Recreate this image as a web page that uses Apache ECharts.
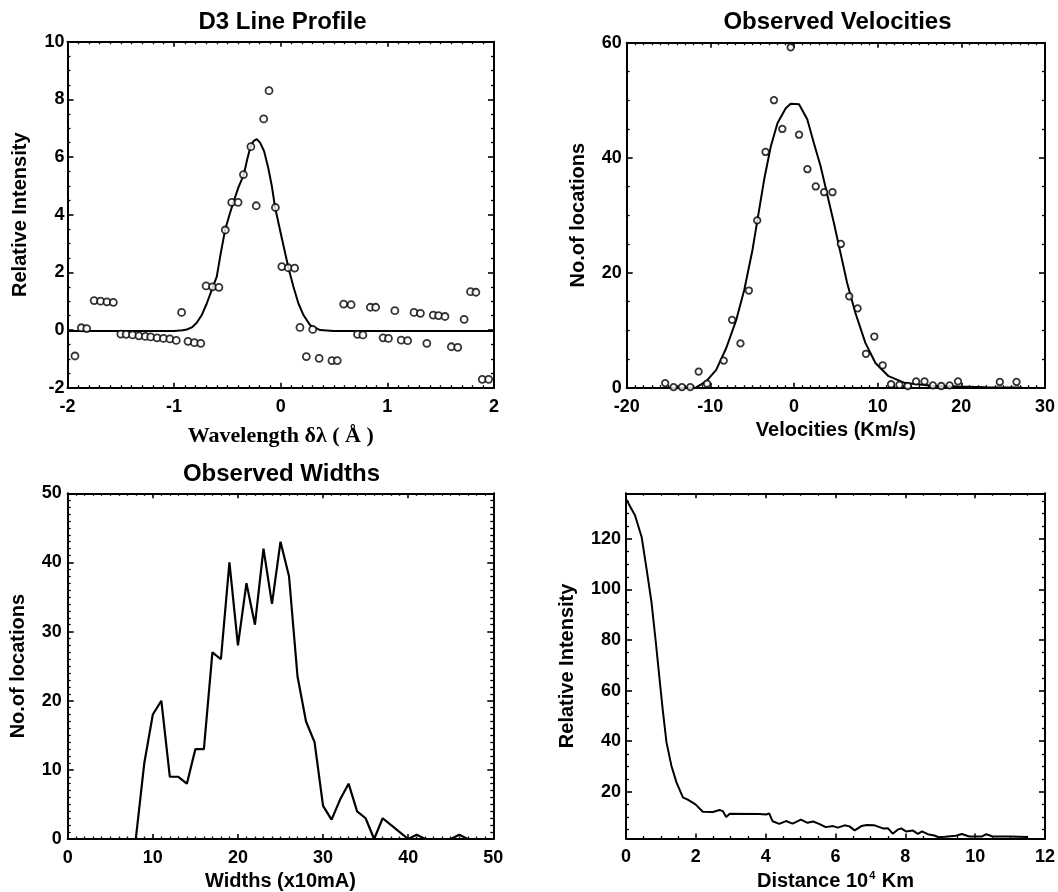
<!DOCTYPE html>
<html>
<head>
<meta charset="utf-8">
<script src="https://cdn.jsdelivr.net/npm/echarts@6/dist/echarts.min.js"></script>
<style>
html,body{margin:0;padding:0;background:#fff;}
#chart{width:1058px;height:892px;}
</style>
</head>
<body>
<div id="chart"></div>
<script>
// ---------- Panel 1: D3 Line Profile ----------
const profileX = [-2.0, -1.5, -1.0, -0.92, -0.881, -0.834, -0.788, -0.741, -0.694, -0.647, -0.600, -0.563, -0.522, -0.481, -0.444, -0.397, -0.347, -0.316, -0.284, -0.256, -0.225, -0.194, -0.156, -0.116, -0.084, -0.053, 0.009, 0.072, 0.119, 0.166, 0.213, 0.275, 0.369, 0.494, 1.0, 1.5, 2.0];
const profileY = [-0.03, -0.03, -0.03, -0.01, 0.02, 0.09, 0.25, 0.52, 0.92, 1.39, 1.85, 2.66, 3.47, 4.0, 4.43, 4.95, 5.38, 5.9, 6.36, 6.55, 6.62, 6.5, 6.2, 5.6, 5.0, 4.25, 3.2, 2.16, 1.5, 0.92, 0.52, 0.17, 0.0, -0.03, -0.03, -0.03, -0.03];
const profilePtsX = [-1.93, -1.87, -1.82, -1.75, -1.69, -1.63, -1.57, -1.50, -1.45, -1.39, -1.33, -1.27, -1.22, -1.16, -1.10, -1.04, -0.98, -0.93, -0.87, -0.81, -0.75, -0.70, -0.64, -0.58, -0.52, -0.46, -0.40, -0.35, -0.28, -0.23, -0.16, -0.11, -0.05, 0.01, 0.07, 0.13, 0.18, 0.24, 0.30, 0.36, 0.48, 0.53, 0.59, 0.66, 0.72, 0.77, 0.84, 0.89, 0.96, 1.01, 1.07, 1.13, 1.19, 1.25, 1.31, 1.37, 1.43, 1.48, 1.54, 1.60, 1.66, 1.72, 1.78, 1.83, 1.89, 1.95];
const profilePtsY = [-0.90, 0.08, 0.05, 1.02, 1.00, 0.98, 0.96, -0.14, -0.15, -0.17, -0.20, -0.22, -0.24, -0.27, -0.29, -0.31, -0.36, 0.61, -0.39, -0.44, -0.46, 1.53, 1.50, 1.48, 3.47, 4.43, 4.43, 5.39, 6.36, 4.31, 7.32, 8.30, 4.25, 2.20, 2.16, 2.15, 0.09, -0.92, 0.02, -0.98, -1.06, -1.06, 0.90, 0.88, -0.15, -0.17, 0.79, 0.79, -0.27, -0.29, 0.67, -0.35, -0.37, 0.61, 0.58, -0.46, 0.52, 0.50, 0.47, -0.58, -0.60, 0.37, 1.33, 1.31, -1.71, -1.71];

// ---------- Panel 2: Observed Velocities ----------
const velFitX = [-15.5, -12.5, -11.7, -10.5, -9.3, -8.1, -6.9, -5.95, -4.96, -4.37, -3.57, -2.77, -1.98, -0.99, -0.4, 0.6, 1.58, 2.38, 3.18, 3.97, 4.76, 5.56, 6.35, 7.34, 8.53, 9.73, 11.3, 13.3, 16.5, 19.6, 23, 27.3];
const velFitY = [0, 0, 0.05, 1.1, 3.1, 6.9, 11.8, 17.0, 24.0, 29.2, 36.2, 42.0, 46.0, 48.6, 49.4, 49.3, 46.7, 42.5, 38.5, 33.6, 28.7, 23.4, 18.2, 13.0, 7.8, 4.3, 2.0, 0.8, 0.35, 0.2, 0.1, 0.05];
const velPtsX = [-15.4, -14.4, -13.4, -12.4, -11.4, -10.4, -8.4, -7.4, -6.4, -5.4, -4.4, -3.4, -2.4, -1.4, -0.4, 0.6, 1.6, 2.6, 3.6, 4.6, 5.6, 6.6, 7.6, 8.6, 9.6, 10.6, 11.6, 12.6, 13.6, 14.6, 15.6, 16.6, 17.6, 18.6, 19.6, 24.6, 26.6];
const velPtsY = [0.8, 0.1, 0.1, 0.1, 2.8, 0.7, 4.7, 11.8, 7.7, 16.9, 29.1, 41.0, 50.0, 45.0, 59.2, 44.0, 38.0, 35.0, 34.0, 34.0, 25.0, 15.9, 13.8, 5.9, 8.9, 3.9, 0.6, 0.5, 0.3, 1.1, 1.1, 0.4, 0.3, 0.4, 1.1, 1.0, 1.0];

// ---------- Panel 3: Observed Widths ----------
const widthX = [0, 1, 2, 3, 4, 5, 6, 7, 8, 9, 10, 11, 12, 13, 14, 15, 16, 17, 18, 19, 20, 21, 22, 23, 24, 25, 26, 27, 28, 29, 30, 31, 32, 33, 34, 35, 36, 37, 38, 39, 40, 41, 42, 43, 44, 45, 46, 47];
const widthY = [0, 0, 0, 0, 0, 0, 0, 0, 0, 11, 18, 20, 9, 9, 8, 13, 13, 27, 26, 40, 28, 37, 31, 42, 34, 43, 38, 23.5, 17, 14, 4.8, 2.8, 5.7, 8, 4, 3, 0, 3, 2, 1, 0, 0.6, 0, 0, 0, 0, 0.6, 0];

// ---------- Panel 4: Relative intensity vs distance ----------
const distX = [0, 0.13, 0.26, 0.45, 0.59, 0.73, 0.855, 0.95, 1.05, 1.16, 1.30, 1.445, 1.63, 1.78, 1.99, 2.2, 2.49, 2.68, 2.78, 2.87, 2.97, 3.82, 4.01, 4.1, 4.2, 4.39, 4.58, 4.77, 5.01, 5.2, 5.36, 5.53, 5.72, 5.93, 6.07, 6.26, 6.4, 6.55, 6.74, 6.9, 7.12, 7.36, 7.5, 7.64, 7.78, 7.88, 8.02, 8.21, 8.36, 8.48, 8.64, 8.83, 8.95, 9.14, 9.45, 9.62, 9.83, 10.2, 10.32, 10.5, 11.0, 11.5];
const distY = [135.8, 132.5, 129.2, 120.6, 108, 95, 79, 66, 52.7, 39.5, 30.3, 23.7, 17.8, 16.8, 15.0, 12.1, 12.0, 12.8, 12.2, 10.0, 11.3, 11.2, 11.0, 11.4, 8.3, 7.3, 8.4, 7.4, 9.0, 7.7, 8.2, 7.3, 6.0, 6.4, 5.8, 6.7, 6.3, 4.7, 6.4, 6.8, 6.7, 5.5, 5.6, 3.4, 5.0, 5.5, 4.3, 4.7, 3.3, 4.3, 3.2, 2.7, 2.0, 2.2, 2.6, 3.3, 2.3, 2.3, 3.2, 2.3, 2.3, 2.1];
const distMajorTicks = [20, 40, 60, 80, 100, 120];
const distMinorTicks = [5, 10, 15, 25, 30, 35, 45, 50, 55, 65, 70, 75, 85, 90, 95, 105, 110, 115, 125, 130, 135];

// ---------- Text ----------
const titles = ['D3 Line Profile', 'Observed Velocities', 'Observed Widths'];
const xNames = ['Wavelength \u03b4\u03bb ( \u00c5 )', 'Velocities (Km/s)', 'Widths (x10mA)', 'Distance 10{sup|4} Km'];
const yNames = ['Relative Intensity', 'No.of locations', 'No.of locations', 'Relative Intensity'];

const zip = (xs, ys) => xs.map((x, i) => [x, ys[i]]);
const SANS = '"Liberation Sans", Arial, Helvetica, sans-serif';
const SERIF = '"Liberation Serif", "Times New Roman", serif';

const grids = [
  {left: 67.5, top: 41.7, width: 426.5, height: 346},
  {left: 626.7, top: 42.7, width: 420.6, height: 345},
  {left: 67.7, top: 493.3, width: 425.6, height: 346.7},
  {left: 626, top: 493.3, width: 421.3, height: 346}
];

function baseAxis(o) {
  return Object.assign({
    type: 'value',
    axisLine: {show: true, onZero: false, lineStyle: {color: '#000', width: 2}},
    axisTick: {show: true, inside: true, length: 6, lineStyle: {color: '#000', width: 1.6}},
    minorTick: {show: true, length: 3, lineStyle: {color: '#000', width: 1.3}},
    splitLine: {show: false},
    minorSplitLine: {show: false},
    axisLabel: {show: false},
    nameTextStyle: {color: '#000', fontFamily: SANS, fontWeight: 'bold', fontSize: 20}
  }, o);
}
function tickLabel(margin) {
  return {show: true, color: '#000', fontFamily: SANS, fontWeight: 'bold', fontSize: 18, margin: margin};
}

const xRanges = [[-2, 2, 1, 10], [-20, 30, 10, 10], [0, 50, 10, 10], [0, 12, 2, 4]];
const yRanges = [[-2, 10, 2, 4], [0, 60, 20, 4], [0, 50, 10, 10]];
const xNameGaps = [38, 33, 32, 32];
const yNameGaps = [37, 38, 39, 49];
const yLabelMargins = [3, 5, 6, 5];

const xAxis = [];
const yAxis = [];
for (let g = 0; g < 4; g++) {
  const r = xRanges[g];
  const nameStyle = g === 0
    ? {color: '#000', fontFamily: SERIF, fontWeight: 'bold', fontSize: 22}
    : {color: '#000', fontFamily: SANS, fontWeight: 'bold', fontSize: 20,
       rich: {sup: {fontSize: 11, fontWeight: 'bold', fontFamily: SANS, color: '#000', verticalAlign: 'top', padding: [0, 1, 10, 1]}}};
  xAxis.push(baseAxis({gridIndex: g, position: 'bottom', min: r[0], max: r[1], interval: r[2],
    axisTick: {show: true, inside: true, length: 5, lineStyle: {color: '#000', width: 1.6}},
    minorTick: {show: true, splitNumber: r[3], length: 2.5, lineStyle: {color: '#000', width: 1.3}},
    axisLabel: tickLabel(10),
    name: xNames[g], nameLocation: 'middle', nameGap: xNameGaps[g], nameTextStyle: nameStyle}));
  xAxis.push(baseAxis({gridIndex: g, position: 'top', min: r[0], max: r[1], interval: r[2],
    axisTick: {show: true, inside: true, length: 5, lineStyle: {color: '#000', width: 1.6}},
    minorTick: {show: true, splitNumber: r[3], length: 2.5, lineStyle: {color: '#000', width: 1.3}}}));
}
for (let g = 0; g < 3; g++) {
  const r = yRanges[g];
  yAxis.push(baseAxis({gridIndex: g, position: 'left', min: r[0], max: r[1], interval: r[2],
    minorTick: {show: true, splitNumber: r[3], length: 3, lineStyle: {color: '#000', width: 1.3}},
    axisLabel: tickLabel(yLabelMargins[g]),
    name: yNames[g], nameLocation: 'middle', nameGap: yNameGaps[g], nameRotate: 90}));
  yAxis.push(baseAxis({gridIndex: g, position: 'right', min: r[0], max: r[1], interval: r[2],
    minorTick: {show: true, splitNumber: r[3], length: 3, lineStyle: {color: '#000', width: 1.3}}}));
}
// panel 4: range starts at the data floor, so ticks are given as explicit values
const distMin = 1.5, distMax = 138;
yAxis.push(baseAxis({gridIndex: 3, position: 'left', min: distMin, max: distMax,
  minorTick: {show: false},
  axisTick: {show: true, inside: true, length: 6, customValues: distMajorTicks, lineStyle: {color: '#000', width: 1.6}},
  axisLabel: Object.assign(tickLabel(yLabelMargins[3]), {customValues: distMajorTicks}),
  name: yNames[3], nameLocation: 'middle', nameGap: yNameGaps[3], nameRotate: 90}));
yAxis.push(baseAxis({gridIndex: 3, position: 'right', min: distMin, max: distMax,
  minorTick: {show: false},
  axisTick: {show: true, inside: true, length: 6, customValues: distMajorTicks, lineStyle: {color: '#000', width: 1.6}}}));
yAxis.push(baseAxis({gridIndex: 3, position: 'left', min: distMin, max: distMax,
  axisLine: {show: false, onZero: false}, minorTick: {show: false},
  axisTick: {show: true, inside: true, length: 3, customValues: distMinorTicks, lineStyle: {color: '#000', width: 1.3}}}));
yAxis.push(baseAxis({gridIndex: 3, position: 'right', min: distMin, max: distMax,
  axisLine: {show: false, onZero: false}, minorTick: {show: false},
  axisTick: {show: true, inside: true, length: 3, customValues: distMinorTicks, lineStyle: {color: '#000', width: 1.3}}}));

const lineStyle = {color: '#000', width: 2};
const pointStyle = {color: '#fff', borderColor: '#000', borderWidth: 1.8};

const series = [
  {type: 'line', xAxisIndex: 0, yAxisIndex: 0, data: zip(profileX, profileY), showSymbol: false, lineStyle: lineStyle, z: 2},
  {type: 'scatter', xAxisIndex: 0, yAxisIndex: 0, data: zip(profilePtsX, profilePtsY), symbol: 'circle', symbolSize: 7, itemStyle: pointStyle, z: 3},
  {type: 'line', xAxisIndex: 2, yAxisIndex: 2, data: zip(velFitX, velFitY), showSymbol: false, lineStyle: lineStyle, z: 2},
  {type: 'scatter', xAxisIndex: 2, yAxisIndex: 2, data: zip(velPtsX, velPtsY), symbol: 'circle', symbolSize: 6.5, itemStyle: pointStyle, z: 3},
  {type: 'line', xAxisIndex: 4, yAxisIndex: 4, data: zip(widthX, widthY), showSymbol: false, lineStyle: {color: '#000', width: 2.2}},
  {type: 'line', xAxisIndex: 6, yAxisIndex: 6, data: zip(distX, distY), showSymbol: false, lineStyle: lineStyle}
];

const titlePos = [[282.5, 22], [837.5, 22], [281.5, 474]];
const graphic = titles.map((t, i) => ({
  type: 'text', x: titlePos[i][0], y: titlePos[i][1],
  style: {text: t, fill: '#000', font: 'bold 24px ' + SANS, textAlign: 'center', textVerticalAlign: 'middle'}
}));

const chart = echarts.init(document.getElementById('chart'), null, {renderer: 'canvas'});
chart.setOption({
  animation: false,
  backgroundColor: '#fff',
  grid: grids,
  xAxis: xAxis,
  yAxis: yAxis,
  series: series,
  graphic: graphic
});
</script>
</body>
</html>
